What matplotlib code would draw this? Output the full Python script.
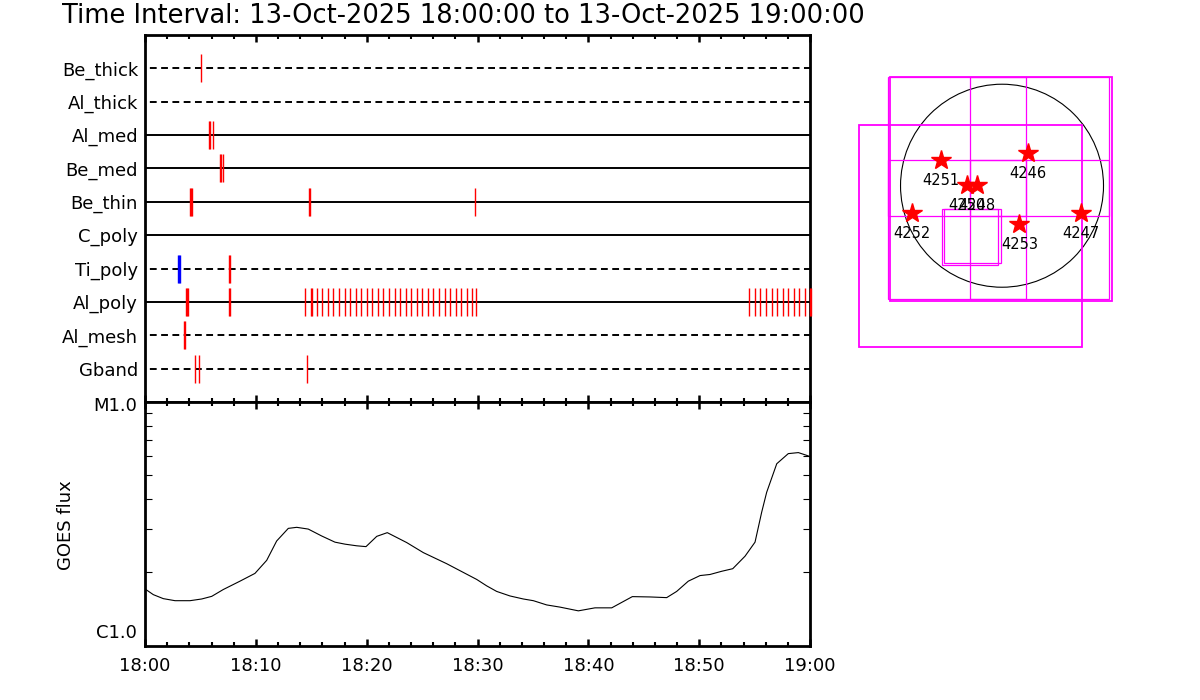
import numpy as np
import matplotlib
matplotlib.use('Agg')
import matplotlib.pyplot as plt
from matplotlib.ticker import MultipleLocator, FixedLocator, NullFormatter, LogLocator
from matplotlib.patches import Circle, Rectangle

# filter rows, top to bottom
filters = ['Be_thick', 'Al_thick', 'Al_med', 'Be_med', 'Be_thin',
           'C_poly', 'Ti_poly', 'Al_poly', 'Al_mesh', 'Gband']
dashed_rows = ['Be_thick', 'Al_thick', 'Ti_poly', 'Al_mesh', 'Gband']

# exposure times, minutes after 18:00 (close repeats show up as thick marks)
be_thick_t = [5.08]
al_thick_t = []
al_med_t = [5.80, 5.89, 6.10]
be_med_t = [6.77, 6.86, 7.08]
be_thin_t = [4.06, 4.15, 4.24, 14.84, 14.93, 29.78]
c_poly_t = []
ti_poly_t = [7.62, 7.71]
al_poly_t = [3.74, 3.83, 3.92, 7.62, 7.71,
             14.46, 14.99, 15.09, 15.55, 16.00, 16.54, 16.99, 17.53, 18.05,
             18.52, 19.07, 19.52, 20.06, 20.51, 21.02, 21.50, 22.02, 22.56,
             23.01, 23.55, 24.03, 24.54, 25.02, 25.53, 26.01, 26.55, 27.04,
             27.55, 28.03, 28.54, 29.08, 29.50, 29.87,
             54.52, 55.01, 55.52, 56.03, 56.55, 57.05, 57.54, 58.04, 58.53,
             59.04, 59.52, 59.97, 60.06]
al_mesh_t = [3.52, 3.61]
gband_t = [4.54, 4.90, 14.64]
ti_poly_blue_t = [3.00, 3.09, 3.18]

# GOES flux (units of 1e-6 W/m^2)
goes_min = [0.0, 0.75, 1.65, 2.71, 4.06, 5.12, 6.02, 7.06, 8.57, 9.92, 10.98,
            11.88, 12.93, 13.69, 14.73, 15.94, 17.14, 18.05, 19.10, 19.94,
            20.91, 21.86, 23.61, 25.11, 27.22, 29.93, 30.83, 31.73, 32.93,
            34.13, 35.04, 36.24, 37.44, 39.10, 40.60, 42.11, 43.97, 45.57,
            47.07, 47.97, 49.02, 50.08, 50.98, 52.03, 53.03, 54.14, 55.04,
            55.64, 56.09, 57.00, 58.04, 58.95, 59.70, 60.0]
goes_flux = [1.71, 1.62, 1.56, 1.53, 1.53, 1.555, 1.594, 1.70, 1.84, 1.98, 2.24,
             2.69, 3.03, 3.06, 3.01, 2.82, 2.66, 2.61, 2.57, 2.55,
             2.81, 2.91, 2.65, 2.41, 2.17, 1.87, 1.76, 1.67, 1.60,
             1.555, 1.53, 1.47, 1.44, 1.39, 1.43, 1.43, 1.59, 1.585,
             1.575, 1.67, 1.84, 1.94, 1.96, 2.02, 2.07, 2.33, 2.66,
             3.53, 4.26, 5.58, 6.14, 6.20, 6.04, 5.97]

tick_min = [0, 10, 20, 30, 40, 50, 60]
time_labels = ['18:00', '18:10', '18:20', '18:30', '18:40', '18:50', '19:00']

# pointing map (arcsec from disk centre)
sun_r = 960
grid_x0 = [-1081, -303, -1081, -303]
grid_y0 = [-287, -287, -1069, -1069]
grid_w = [1308, 1315, 1308, 1315]
grid_h = [1312, 1312, 1312, 1312]
fov_x0 = [-1064, -1350]
fov_y0 = [-1086, -1523]
fov_w = [2100, 2104]
fov_h = [2111, 2097]
small_x0 = [-565, -546]
small_y0 = [-750, -734]
small_w = [530, 534]
small_h = [527, 511]
ar_num = [4251, 4246, 4250, 4248, 4252, 4253, 4247]
ar_x = [-580, 249, -328, -239, -849, 164, 747]
ar_y = [243, 307, 7, 7, -261, -365, -261]

obs = dict(zip(filters, [be_thick_t, al_thick_t, al_med_t, be_med_t, be_thin_t,
                         c_poly_t, ti_poly_t, al_poly_t, al_mesh_t, gband_t]))

fig = plt.figure(figsize=(12, 7), dpi=100)
ax1 = fig.add_axes([145/1200, 1-402/700, 665/1200, 367/700])
ax2 = fig.add_axes([145/1200, 1-645.7/700, 665/1200, 243.7/700])

rows = []
for i, name in enumerate(filters):
    row = len(filters) - i
    rows.append(row)
    if name in dashed_rows:
        ax1.plot([0, 60], [row, row], color='black', lw=1.4,
                 linestyle=(3.3, (3.5, 2.3)))
    else:
        ax1.plot([0, 60], [row, row], color='black', lw=1.4)
    if len(obs[name]) > 0:
        ax1.vlines(obs[name], row-0.42, row+0.42, colors='red', lw=1.0,
                   zorder=4, clip_on=False)
    if name == 'Ti_poly':
        ax1.vlines(ti_poly_blue_t, row-0.42, row+0.42, colors='blue', lw=1.0,
                   zorder=4)

ax1.set_ylim(0, 11)
ax1.set_yticks(rows)
ax1.set_yticklabels(filters)
ax1.tick_params(axis='y', length=0, pad=5, labelsize=13)

for ax in (ax1, ax2):
    ax.set_xlim(0, 60)
    ax.set_xticks(tick_min)
    ax.xaxis.set_minor_locator(MultipleLocator(2))
    ax.tick_params(axis='x', which='major', direction='in', top=True,
                   bottom=True, length=5, width=1.8)
    ax.tick_params(axis='x', which='minor', direction='in', top=True,
                   bottom=True, length=2.8, width=1.5)
    for s in ax.spines.values():
        s.set_linewidth(2)
ax1.tick_params(axis='x', labelbottom=False)
ax2.set_xticklabels(time_labels)
ax2.tick_params(axis='x', labelsize=13, pad=8)

ax2.plot(goes_min, np.array(goes_flux)*1e-6, color='black', lw=0.8)
ax2.set_yscale('log')
ax2.set_ylim(1e-6, 1e-5)
ax2.yaxis.set_major_locator(FixedLocator([1e-6, 1e-5]))
ax2.yaxis.set_minor_locator(LogLocator(base=10, subs=np.arange(2, 10)))
ax2.yaxis.set_major_formatter(NullFormatter())
ax2.yaxis.set_minor_formatter(NullFormatter())
ax2.tick_params(axis='y', which='both', direction='in', left=True, right=True)
ax2.tick_params(axis='y', which='major', length=0)
ax2.tick_params(axis='y', which='minor', length=5, width=0.8)
ax2.text(-0.012, 0.982, 'M1.0', transform=ax2.transAxes, ha='right',
         va='center', fontsize=13)
ax2.text(-0.012, 0.052, 'C1.0', transform=ax2.transAxes, ha='right',
         va='center', fontsize=13)

fig.text(66/1200, 1-525/700, 'GOES flux', rotation=90, ha='center',
         va='center', fontsize=13)
fig.text(62/1200, 1-16/700,
         'Time Interval: 13-Oct-2025 18:00:00 to 13-Oct-2025 19:00:00',
         ha='left', va='center', fontsize=18.5)

# solar disk with pointings
ax3 = fig.add_axes([850/1200, 1-355/700, 270/1200, 285/700])
ax3.add_patch(Circle((0, 0), sun_r, fill=False, ec='black', lw=0.8))
for x0, y0, w, h in zip(grid_x0, grid_y0, grid_w, grid_h):
    ax3.add_patch(Rectangle((x0, y0), w, h, fill=False, ec='#ff00ff', lw=0.9))
for x0, y0, w, h in zip(fov_x0, fov_y0, fov_w, fov_h):
    ax3.add_patch(Rectangle((x0, y0), w, h, fill=False, ec='#ff00ff', lw=1.3))
for x0, y0, w, h in zip(small_x0, small_y0, small_w, small_h):
    ax3.add_patch(Rectangle((x0, y0), w, h, fill=False, ec='#ff00ff', lw=0.9))
ax3.plot(ar_x, ar_y, '*', color='red', mec='red', ms=15, ls='none', zorder=5)
for n, x, y in zip(ar_num, ar_x, ar_y):
    ax3.annotate(str(n), (x, y), xytext=(0, -14.5), textcoords='offset points',
                 ha='center', va='center', fontsize=10.5, zorder=6)
ax3.set_xlim(-1438, 1116)
ax3.set_ylim(-1601, 1094.5)
ax3.axis('off')

fig.savefig('out.png', dpi=100)
